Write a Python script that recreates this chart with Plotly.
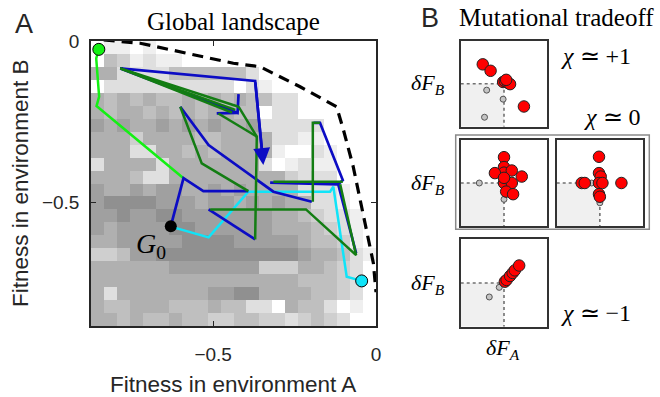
import plotly.graph_objects as go

W, H = 660, 397

# ---------------- data ----------------
# background fitness-landscape density (0 dark ... 9 white), top row first
heat_rows = [
    "9889899999999999999999",
    "9568788999999999999999",
    "4477775555557999999999",
    "9777777777797899999999",
    "4545455454545577999999",
    "4544545454455977999999",
    "3434434343443777779999",
    "4446444455444477889999",
    "4447744545444489978999",
    "7444474444444798788999",
    "4445774444444446777999",
    "3443433443434444777899",
    "3222233343343434477899",
    "3323322333333344567789",
    "3433332233333344456789",
    "4433333222233333455689",
    "6653322222222222344578",
    "4444443333333666445679",
    "4444444444444444555679",
    "4744444443322444455679",
    "4554445554557794557989",
    "4454554556655667656799",
]
x_range = [-0.875, 0.0]
y_range = [-0.885, 0.0]

pareto_x = [-0.836, -0.724, -0.581, -0.438, -0.356, -0.233, -0.121, -0.100, -0.070, -0.039, -0.008, 0.0]
pareto_y = [0.003, -0.007, -0.038, -0.069, -0.080, -0.142, -0.204, -0.276, -0.390, -0.535, -0.690, -0.78]

g0 = (-0.630, -0.575)

lime_x = [-0.851, -0.859, -0.850, -0.858, -0.591]
lime_y = [-0.026, -0.054, -0.173, -0.202, -0.426]

cyan_x = [-0.630, -0.611, -0.514, -0.392, -0.141, -0.131, -0.090, -0.044]
cyan_y = [-0.575, -0.582, -0.610, -0.468, -0.468, -0.452, -0.732, -0.745]

blue_x = [-0.630, -0.591, -0.530, -0.392, None,
          -0.601, -0.514, -0.315, -0.197, None,
          -0.325, -0.116, -0.061, None,
          -0.514, -0.371, None,
          -0.422, -0.425, -0.785, -0.371, -0.350, None,
          -0.489, -0.425, None,
          -0.192, -0.172, -0.102, -0.116]
blue_y = [-0.575, -0.426, -0.466, -0.466, None,
          -0.204, -0.323, -0.468, -0.499, None,
          -0.440, -0.445, -0.659, None,
          -0.523, -0.616, None,
          -0.165, -0.223, -0.085, -0.124, -0.340, None,
          -0.225, -0.223, None,
          -0.254, -0.254, -0.432, -0.445]

green_x = [-0.785, -0.422, None, -0.785, -0.432, None, -0.785, -0.442, None,
           -0.484, -0.366, None,
           -0.422, -0.366, -0.371, None,
           -0.601, -0.535, -0.392, None,
           -0.509, -0.215, -0.061, -0.110, None,
           -0.194, -0.194, -0.172, None,
           -0.315, -0.102]
green_y = [-0.085, -0.204, None, -0.085, -0.214, None, -0.085, -0.222, None,
           -0.225, -0.297, None,
           -0.204, -0.297, -0.616, None,
           -0.204, -0.380, -0.466, None,
           -0.523, -0.523, -0.665, -0.445, None,
           -0.499, -0.254, -0.254, None,
           -0.437, -0.437]

arrow_tail = (-0.371, -0.124)
arrow_tip = (-0.346, -0.385)

# panel B: mutation effects (dF_A, dF_B), parent (gray) and offspring (red)
p1_gray_x = [-0.40, -0.02, -0.45]
p1_gray_y = [-0.15, -0.36, -0.78]
p1_red_x = [-0.49, -0.31, -0.02, 0.02, 0.09, 0.14, 0.05, 0.46]
p1_red_y = [0.45, 0.30, 0.04, 0.06, 0.02, -0.01, 0.09, -0.53]

p2_gray_x = [-0.57, 0.0]
p2_gray_y = [0.0, -0.38]
p2_red_x = [0.0, 0.0, 0.0, -0.21, 0.18, 0.41, 0.0, 0.18, 0.05, 0.21, 0.0]
p2_red_y = [0.60, 0.37, 0.24, 0.23, 0.29, 0.15, 0.0, 0.0, -0.20, -0.26, 0.12]

p3_gray_x = [-0.19, 0.0]
p3_gray_y = [0.0, -0.46]
p3_red_x = [-0.02, -0.02, 0.02, -0.42, -0.35, -0.02, 0.06, 0.50, -0.02, 0.0]
p3_red_y = [0.61, 0.23, 0.15, 0.0, 0.0, 0.0, 0.0, 0.0, -0.26, -0.32]

p4_gray_x = [-0.11, -0.34]
p4_gray_y = [-0.10, -0.32]
p4_red_x = [0.02, 0.06, 0.14, 0.20, 0.25, 0.35]
p4_red_y = [0.03, 0.07, 0.16, 0.23, 0.29, 0.40]

# ---------------- helpers ----------------
def fx(p):
    return p / W

def fy(p):
    return 1 - p / H

BLUE = "#0c0cc4"
GREEN = "#137d13"
LIME = "#14f014"
CYAN = "#10e4f8"
AX = "#262626"
SANS = "Liberation Sans, Arial, sans-serif"
SERIF = "Liberation Serif, Times New Roman, serif"

fig = go.Figure()

# heatmap
nrow = len(heat_rows)
ncol = 22
z = [[int(c) for c in r[:ncol].ljust(ncol, "9")] for r in heat_rows]
dx = (x_range[1] - x_range[0]) / ncol
dy = (y_range[1] - y_range[0]) / nrow
xc = [x_range[0] + dx * (i + 0.5) for i in range(ncol)]
yc = [y_range[1] - dy * (j + 0.5) for j in range(nrow)]
fig.add_trace(go.Heatmap(z=z, x=xc, y=yc, zmin=0, zmax=9, showscale=False,
                         colorscale=[[0, "rgb(112,112,112)"], [1, "rgb(255,255,255)"]],
                         hoverinfo="skip", xaxis="x", yaxis="y"))

fig.add_trace(go.Scatter(x=pareto_x, y=pareto_y, mode="lines",
                         line=dict(color="black", width=3.2, dash="11px,7px"),
                         xaxis="x", yaxis="y"))
fig.add_trace(go.Scatter(x=lime_x, y=lime_y, mode="lines", line=dict(color=LIME, width=2.5),
                         xaxis="x", yaxis="y"))
fig.add_trace(go.Scatter(x=cyan_x, y=cyan_y, mode="lines", line=dict(color=CYAN, width=2.5),
                         xaxis="x", yaxis="y"))
fig.add_trace(go.Scatter(x=blue_x, y=blue_y, mode="lines", line=dict(color=BLUE, width=2.7),
                         connectgaps=False, xaxis="x", yaxis="y"))
fig.add_trace(go.Scatter(x=green_x, y=green_y, mode="lines", line=dict(color=GREEN, width=2.5),
                         connectgaps=False, xaxis="x", yaxis="y"))
# end points
fig.add_trace(go.Scatter(x=[lime_x[0]], y=[lime_y[0]], mode="markers",
                         marker=dict(color=LIME, size=12, line=dict(color="black", width=1)),
                         xaxis="x", yaxis="y"))
fig.add_trace(go.Scatter(x=[cyan_x[-1]], y=[cyan_y[-1]], mode="markers",
                         marker=dict(color=CYAN, size=12, line=dict(color="black", width=1)),
                         xaxis="x", yaxis="y"))
fig.add_trace(go.Scatter(x=[g0[0]], y=[g0[1]], mode="markers",
                         marker=dict(color="black", size=12), xaxis="x", yaxis="y"))

# small panels
panels = [
    (p1_gray_x, p1_gray_y, p1_red_x, p1_red_y, "x2", "y2"),
    (p2_gray_x, p2_gray_y, p2_red_x, p2_red_y, "x3", "y3"),
    (p3_gray_x, p3_gray_y, p3_red_x, p3_red_y, "x4", "y4"),
    (p4_gray_x, p4_gray_y, p4_red_x, p4_red_y, "x5", "y5"),
]
shapes = []
for gx, gy, rx, ry, xa, ya in panels:
    shapes.append(dict(type="rect", xref=xa, yref=ya, x0=-1, x1=0, y0=-1, y1=0,
                       fillcolor="#f0f0f0", line=dict(width=0), layer="below"))
    shapes.append(dict(type="line", xref=xa, yref=ya, x0=-1, x1=0, y0=0, y1=0,
                       line=dict(color="#707070", width=1.6, dash="dot"), layer="below"))
    shapes.append(dict(type="line", xref=xa, yref=ya, x0=0, x1=0, y0=0, y1=-1,
                       line=dict(color="#707070", width=1.6, dash="dot"), layer="below"))
    fig.add_trace(go.Scatter(x=gx, y=gy, mode="markers",
                             marker=dict(color="#c4c4c4", size=6, line=dict(color="#555", width=1)),
                             xaxis=xa, yaxis=ya, cliponaxis=False))
    fig.add_trace(go.Scatter(x=rx, y=ry, mode="markers",
                             marker=dict(color="#ff0000", size=11.5, line=dict(color="#222", width=1)),
                             xaxis=xa, yaxis=ya, cliponaxis=False))

# frame around middle row
shapes.append(dict(type="rect", xref="paper", yref="paper",
                   x0=fx(455.7), x1=fx(649.3), y0=fy(229.3), y1=fy(135),
                   line=dict(color="#8a8a8a", width=1.5)))

main_axis = dict(showgrid=False, zeroline=False, showline=True, linecolor=AX, linewidth=1.5,
                 mirror="allticks", ticks="inside", ticklen=5, tickcolor=AX, tickwidth=1.2,
                 automargin=False,
                 tickfont=dict(family=SANS, size=19, color=AX))
small_axis = dict(range=[-1, 1], showgrid=False, zeroline=False, showline=True, linecolor="#333",
                  linewidth=2.2, mirror=True, ticks="", showticklabels=False, fixedrange=True,
                  automargin=False)

def sdom(x0, x1, y0, y1):
    return [fx(x0), fx(x1)], [fy(y1), fy(y0)]

d2 = sdom(460.7, 547.3, 40.7, 126.7)
d3 = sdom(460.7, 547.3, 140, 226)
d4 = sdom(556.7, 643, 140, 226)
d5 = sdom(460.7, 547.3, 239.3, 326.7)

layout = dict(
    width=W, height=H, margin=dict(l=0, r=0, t=0, b=0, autoexpand=False),
    paper_bgcolor="white", plot_bgcolor="white", showlegend=False,
    xaxis=dict(main_axis, domain=[fx(91), fx(376)], range=x_range, tickvals=[-0.5, 0],
               ticklabelstandoff=10),
    yaxis=dict(main_axis, domain=[fy(326), fy(41)], range=y_range, tickvals=[-0.5, 0],
               ticklabelstandoff=6),
    shapes=shapes,
)
for i, d in zip([2, 3, 4, 5], [d2, d3, d4, d5]):
    layout[f"xaxis{i}"] = dict(small_axis, domain=d[0], anchor=f"y{i}")
    layout[f"yaxis{i}"] = dict(small_axis, domain=d[1], anchor=f"x{i}")
fig.update_layout(**layout)

def txt(x, y, text, size, family=SERIF, color="black", angle=0):
    return dict(x=fx(x), y=fy(y), xref="paper", yref="paper", text=text, showarrow=False,
                xanchor="center", yanchor="middle", textangle=angle,
                font=dict(family=family, size=size, color=color))

ann = [
    txt(24, 24, "A", 27, SANS, AX),
    txt(430, 18, "B", 27, SANS, AX),
    txt(233, 22, "Global landscape", 25),
    txt(556, 18, "Mutational tradeoff", 25),
    txt(233, 384, "Fitness in environment A", 22.5, SANS, AX),
    txt(20, 183, "Fitness in environment B", 22.5, SANS, AX, angle=-90),
    txt(428, 84, "<i>δF</i><sub><i>B</i></sub>", 22),
    txt(428, 184, "<i>δF</i><sub><i>B</i></sub>", 22),
    txt(428, 284, "<i>δF</i><sub><i>B</i></sub>", 22),
    txt(503, 349, "<i>δF</i><sub><i>A</i></sub>", 22),
    txt(596, 56, "<i>χ</i> ≃ +1", 24),
    txt(612, 117, "<i>χ</i> ≃ 0", 24),
    txt(596, 313, "<i>χ</i> ≃ −1", 24),
    dict(x=g0[0], y=g0[1], xref="x", yref="y", text="<i>G</i><sub>0</sub>", showarrow=False,
         xshift=-20, yshift=-19, font=dict(family=SERIF, size=28, color="black")),
    dict(x=arrow_tip[0], y=arrow_tip[1], ax=arrow_tail[0], ay=arrow_tail[1],
         xref="x", yref="y", axref="x", ayref="y", text="", showarrow=True,
         arrowhead=2, arrowsize=1.25, arrowwidth=2.7, arrowcolor=BLUE, standoff=0),
]
fig.update_layout(annotations=ann)

fig.write_html("out.html", config={"displayModeBar": False},
               post_script="document.body.style.margin='0';document.body.style.overflow='hidden';")
